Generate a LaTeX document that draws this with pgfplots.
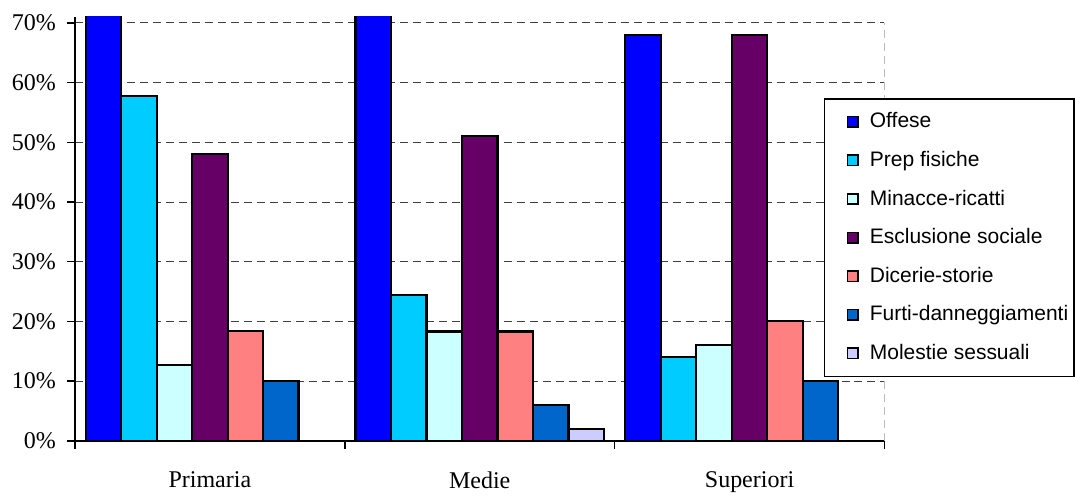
\documentclass[border=0pt]{standalone}
\usepackage{fontspec}
\setmainfont{Liberation Serif}
\newfontfamily\legendfont{Liberation Sans}
\usepackage{pgfplots}
\pgfplotsset{compat=1.18}
\definecolor{cOff}{RGB}{0,0,255}
\definecolor{cPrep}{RGB}{0,204,255}
\definecolor{cMin}{RGB}{204,255,255}
\definecolor{cEsc}{RGB}{102,0,102}
\definecolor{cDic}{RGB}{255,128,128}
\definecolor{cFur}{RGB}{0,102,204}
\definecolor{cMol}{RGB}{204,204,255}
\begin{document}
\begin{tikzpicture}
\begin{axis}[
  scale only axis, width=405pt, height=212pt,
  xmin=-0.5, xmax=2.5, ymin=0, ymax=71,
  ybar=0pt, bar width=0.1315,
  legend image code/.code={\path (-10pt,0pt); \draw[#1,line width=0.8pt,draw=black] (0pt,-2.6pt) rectangle (5.2pt,2.6pt); \path (8.7pt,0pt);},
  axis x line*=bottom, axis y line*=left,
  axis line style={line width=0.8pt, black},
  ytick={0,10,...,70},
  yticklabel={\pgfmathprintnumber{\tick}\%},
  /pgf/number format/assume math mode=true,
  xtick={0,1,2}, xticklabels={Primaria,Medie,Superiori},
  minor xtick={-0.5,0.5,1.5,2.5},
  major x tick style={draw=none},
  tick align=outside, major tick length=4pt, minor tick length=4pt,
  tick style={black, line width=0.8pt},
  ymajorgrids, xminorgrids=false,
  grid style={black!75, line width=0.5pt, dash pattern=on 4pt off 2.5pt},
  ticklabel style={font=\fontsize{12}{14}\selectfont},
  xticklabel style={yshift=-8pt},
  yticklabel style={xshift=-2pt},
  legend style={at={(rel axis cs:0.9247,0.809)}, anchor=north west,
    draw=black, line width=0.8pt,
    font=\legendfont\fontsize{10.5}{12}\selectfont,
    row sep=6.2pt, inner xsep=1pt, inner ysep=5pt},
  legend cell align=left,
]
\addplot[fill=cOff, draw=black, line width=1.1pt] coordinates {(0,80) (1,80) (2,68)};
\addplot[fill=cPrep, draw=black, line width=1.1pt] coordinates {(0,57.7) (1,24.4) (2,14)};
\addplot[fill=cMin, draw=black, line width=1.1pt] coordinates {(0,12.7) (1,18.3) (2,16)};
\addplot[fill=cEsc, draw=black, line width=1.1pt] coordinates {(0,48) (1,51) (2,68)};
\addplot[fill=cDic, draw=black, line width=1.1pt] coordinates {(0,18.4) (1,18.3) (2,20)};
\addplot[fill=cFur, draw=black, line width=1.1pt] coordinates {(0,10) (1,6) (2,10)};
\addplot[fill=cMol, draw=black, line width=1.1pt] coordinates {(0,0) (1,2) (2,0)};
\legend{Offese,Prep fisiche,Minacce-ricatti,Esclusione sociale,Dicerie-storie,Furti-danneggiamenti,Molestie sessuali}
\draw[black!75, line width=0.5pt, dash pattern=on 4pt off 2.5pt] (axis cs:2.5,0) -- (axis cs:2.5,70);
\coordinate (ll) at (rel axis cs:0,0);
\coordinate (ur) at (rel axis cs:1,1);
\end{axis}
\path ([shift={(-37.5pt,-26pt)}]ll) rectangle ([shift={(95pt,8.5pt)}]ur);
\end{tikzpicture}
\end{document}
